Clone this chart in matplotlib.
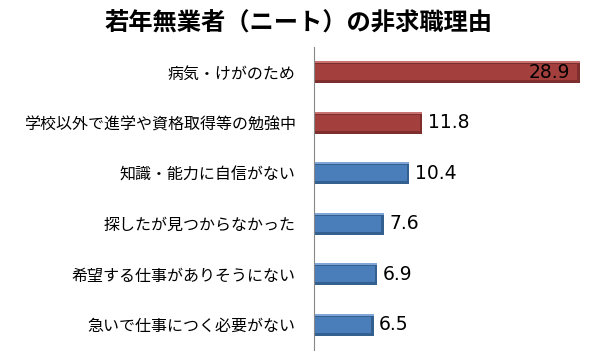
import matplotlib
matplotlib.use("Agg")
import matplotlib.pyplot as plt

plt.rcParams['font.family'] = ['Noto Sans CJK JP', 'DejaVu Sans']

title = "若年無業者（ニート）の非求職理由"
categories = ["病気・けがのため", "学校以外で進学や資格取得等の勉強中", "知識・能力に自信がない",
              "探したが見つからなかった", "希望する仕事がありそうにない", "急いで仕事につく必要がない"]
values = [28.9, 11.8, 10.4, 7.6, 6.9, 6.5]
colors = ["#A33F3C", "#A33F3C", "#4A7EBB", "#4A7EBB", "#4A7EBB", "#4A7EBB"]
darks = ["#7E2F2D", "#7E2F2D", "#33608F", "#33608F", "#33608F", "#33608F"]
lights = ["#C97370", "#C97370", "#7FA6D6", "#7FA6D6", "#7FA6D6", "#7FA6D6"]

fig = plt.figure(figsize=(6, 3.6), dpi=100)
ax = fig.add_axes([0.523, 0.028, 0.46, 0.841])
y = list(range(len(categories)))
# bevel look: light top edge, dark lower body, main face
ax.barh([p - 0.02 for p in y], values, height=0.4, color=lights, edgecolor='none')
ax.barh([p + 0.02 for p in y], values, height=0.4, color=darks, edgecolor='none')
ax.barh(y, [v - 0.3 for v in values], height=0.32, color=colors, edgecolor='none')
ax.set_ylim(len(categories) - 0.5, -0.5)
ax.set_xlim(0, 30)
ax.set_yticks(y)
ax.set_yticklabels(categories, fontsize=11.5)
ax.tick_params(axis='y', length=0, pad=13)
ax.set_xticks([])
for s in ['top', 'right', 'bottom']:
    ax.spines[s].set_visible(False)
ax.spines['left'].set_color('#888888')

for i, v in enumerate(values):
    if v > 20:
        ax.text(v - 1.0, i, f"{v}", va='center', ha='right', fontsize=13.5, family='DejaVu Sans')
    else:
        ax.text(v + 0.6, i, f"{v}", va='center', ha='left', fontsize=13.5, family='DejaVu Sans')

fig.text(0.498, 0.935, title, ha='center', va='center', fontsize=17.5, fontweight='bold')
fig.savefig("out.png", dpi=100)
